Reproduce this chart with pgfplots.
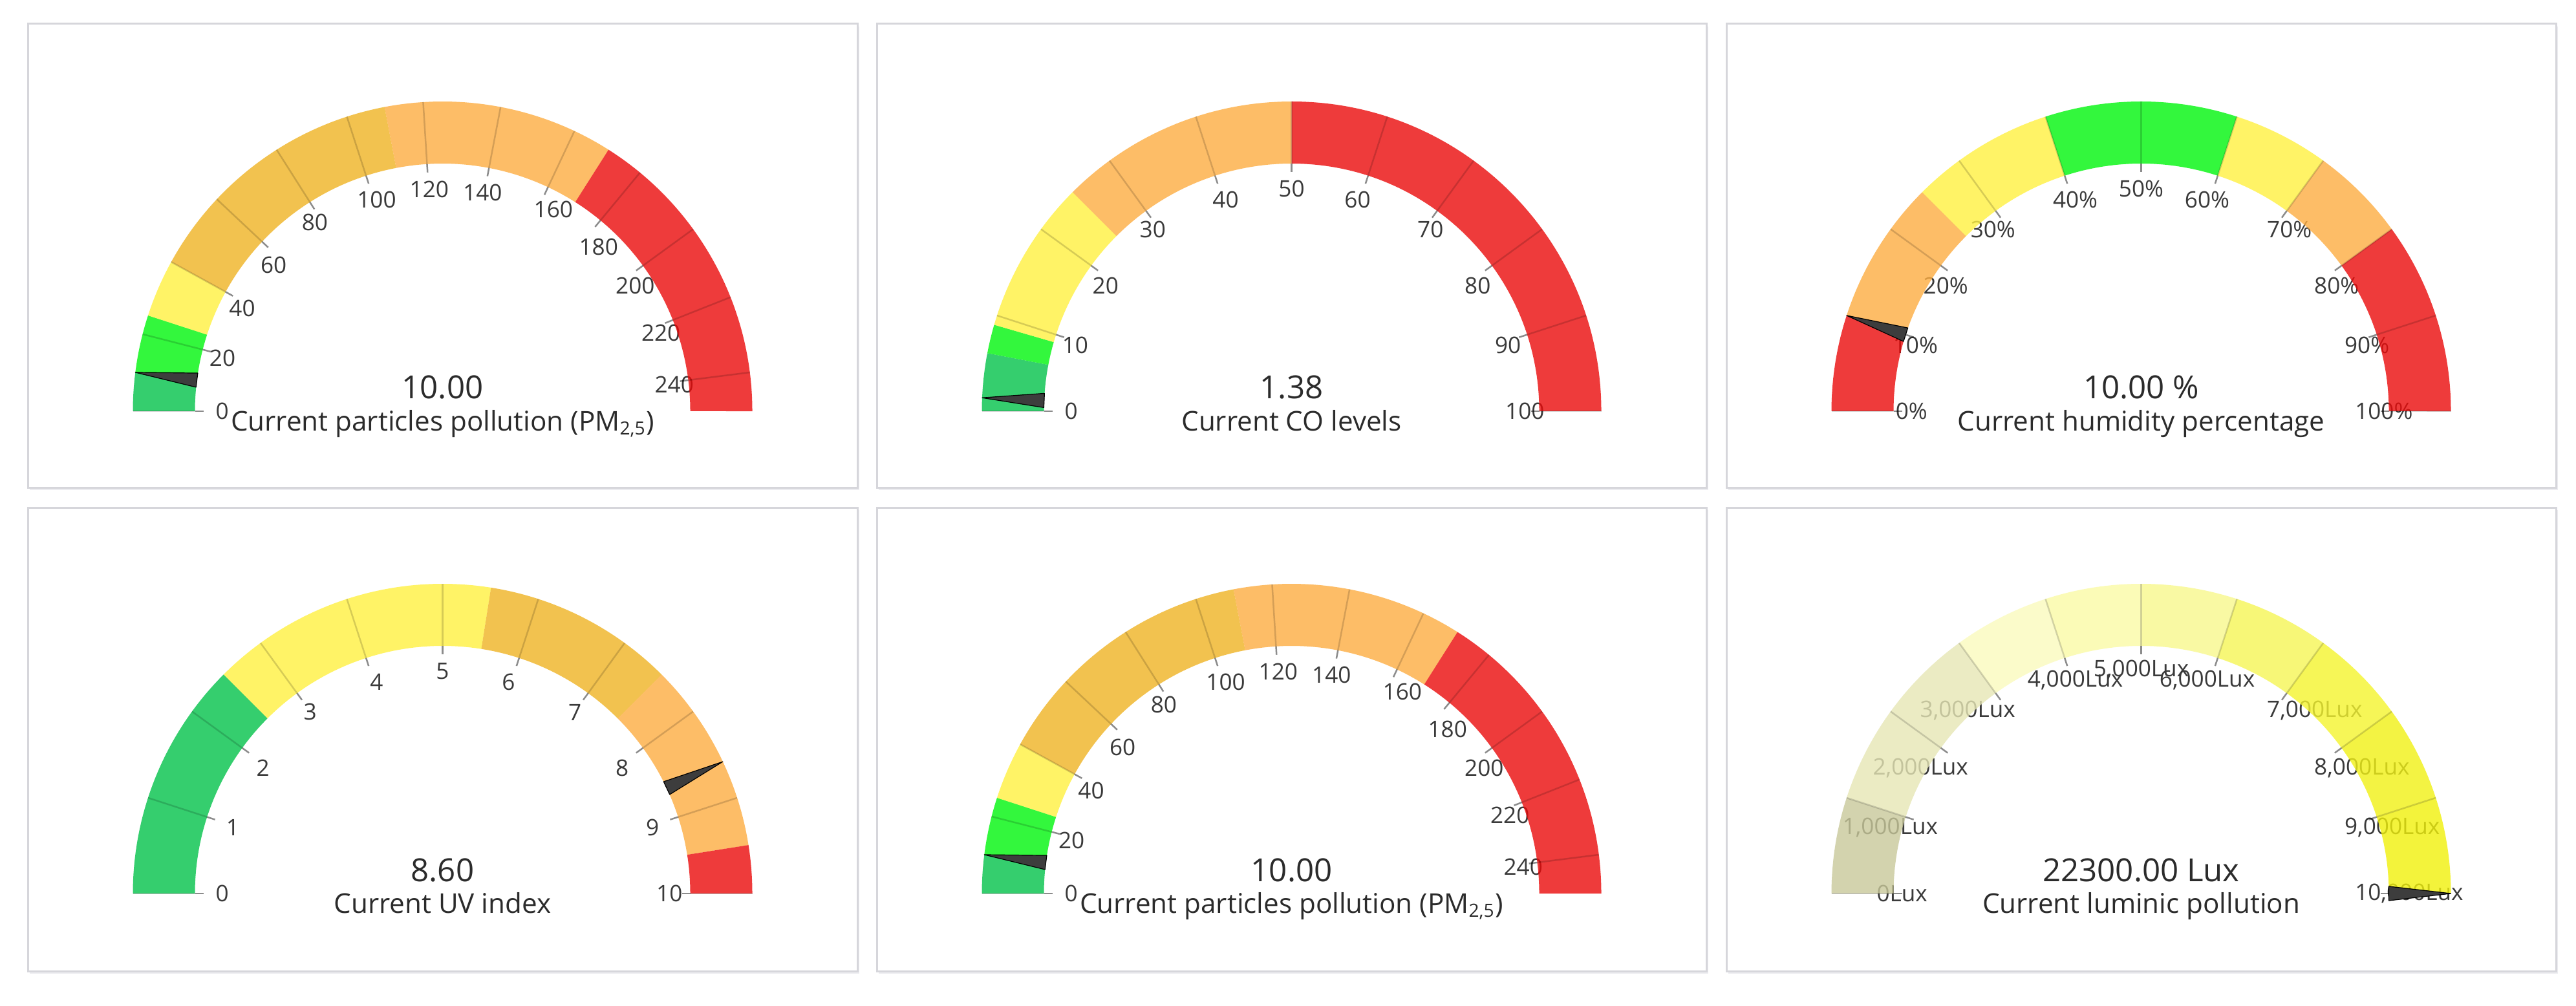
\documentclass[border=0pt]{standalone}
\usepackage{fontspec}
\setmainfont{Open Sans}
\usepackage{pgfplots}
\pgfplotsset{compat=1.18}

% band colours are pre-darkened: they are filled at 80% opacity over white,
% so the tick labels underneath show through faintly
\definecolor{dkgreen}{HTML}{03C24A}
\definecolor{ltgreen}{HTML}{00F50D}
\definecolor{yel}{HTML}{FFF140}
\definecolor{gold}{HTML}{EFB323}
\definecolor{lorange}{HTML}{FDAD41}
\definecolor{gred}{HTML}{EA0A0A}
\definecolor{luxA}{HTML}{C8C89A}
\definecolor{luxB}{HTML}{E6E6B5}
\definecolor{luxC}{HTML}{FBFBBD}
\definecolor{luxD}{HTML}{FAFAA6}
\definecolor{luxE}{HTML}{F8F88D}
\definecolor{luxF}{HTML}{F6F656}
\definecolor{luxG}{HTML}{F4F42E}
\definecolor{luxH}{HTML}{F1F115}
\definecolor{luxI}{HTML}{F0F00B}
\definecolor{labelc}{HTML}{3A3A3A}
\definecolor{valc}{HTML}{2B2B2B}
\definecolor{needlec}{HTML}{3D3D3D}
\definecolor{framec}{HTML}{D6D6DB}
\definecolor{shadowc}{HTML}{ECECF0}

% radii in axis units (1 unit = 1cm = 100px of the reference)
\newcommand{\Ro}{4.79}
\newcommand{\Ri}{3.83}
\newcommand{\Rt}{3.70}
\newcommand{\Rl}{3.30}

% #1 cx, #2 cy, #3 max, #4 value/label list
\newcommand{\ticklabels}[4]{%
  \foreach \v/\lab in {#4}{%
    \edef\t{\fpeval{180-180*\v/(#3)}}%
    \pgfmathtruncatemacro\hh{(cos(\t)<-0.4)+2*(cos(\t)>0.4)}%
    \pgfmathtruncatemacro\vv{sin(\t)>0.8}%
    \edef\anc{\ifcase\numexpr\hh+3*\vv\relax center\or east\or west\or south\or south east\or south west\fi}%
    \node[anchor=\anc,inner sep=0pt,text=labelc,font=\fontsize{10}{12}\selectfont]
      at ([shift={(\t:\Rl)}]axis cs:#1,#2) {\lab};
  }%
}

% #1 cx, #2 cy, #3 max, #4 from/to/colour list
\newcommand{\bands}[4]{%
  \foreach \a/\b/\col in {#4}{%
    \edef\ta{\fpeval{180-180*\a/(#3)}}%
    \edef\tb{\fpeval{180-180*\b/(#3)}}%
    \fill[\col,fill opacity=0.8] ([shift={(\ta:\Ro)}]axis cs:#1,#2) arc[start angle=\ta,end angle=\tb,radius=\Ro]
      -- ([shift={(\tb:\Ri)}]axis cs:#1,#2) arc[start angle=\tb,end angle=\ta,radius=\Ri] -- cycle;
  }%
}

\newcommand{\ticklines}[4]{%
  \foreach \v/\lab in {#4}{%
    \edef\t{\fpeval{180-180*\v/(#3)}}%
    \draw[black,opacity=0.16,line width=0.025cm]
      ([shift={(\t:\Ro)}]axis cs:#1,#2) -- ([shift={(\t:\Ri)}]axis cs:#1,#2);
    \draw[black,opacity=0.45,line width=0.025cm]
      ([shift={(\t:\Ri)}]axis cs:#1,#2) -- ([shift={(\t:\Rt)}]axis cs:#1,#2);
  }%
}

% #1 cx, #2 cy, #3 max, #4 bands, #5 ticks, #6 value, #7 value text, #8 subtitle
\newcommand{\gauge}[8]{%
  \ticklabels{#1}{#2}{#3}{#5}%
  \bands{#1}{#2}{#3}{#4}%
  \ticklines{#1}{#2}{#3}{#5}%
  \edef\tn{\fpeval{180-180*min(#6,#3)/(#3)}}%
  \edef\tp{\fpeval{\tn+90}}\edef\tm{\fpeval{\tn-90}}%
  \filldraw[fill=needlec,draw=black,line width=0.012cm,line join=round]
    ([shift={(\tn:\Ro)}]axis cs:#1,#2)
    -- ([shift={(\tn:\Ri)},shift={(\tp:0.11)}]axis cs:#1,#2)
    -- ([shift={(\tn:\Ri)},shift={(\tm:0.11)}]axis cs:#1,#2) -- cycle;
  \node[anchor=base,text=valc,font=\fontsize{14}{16}\selectfont]
    at ([yshift=0.19cm]axis cs:#1,#2) {#7};
  \node[anchor=base,text=valc,font=\fontsize{12}{14}\selectfont]
    at ([yshift=-0.30cm]axis cs:#1,#2) {#8};
}

\begin{document}
\begin{tikzpicture}
\begin{axis}[x=1cm,y=1cm,xmin=0,xmax=39.84,ymin=0,ymax=15.55,
  hide axis,clip=false]
\pgfplotsextra{%
  \fill[white] (axis cs:0,0) rectangle (axis cs:39.84,15.55);
  \foreach \xa/\xb in {0.43/13.26,13.56/26.39,26.70/39.53}{%
    \foreach \ya/\yb in {8.01/15.18,0.53/7.70}{%
      \fill[shadowc] ([xshift=0.03cm,yshift=-0.04cm]axis cs:\xa,\ya) rectangle ([xshift=0.03cm,yshift=-0.04cm]axis cs:\xb,\yb);
      \filldraw[fill=white,draw=framec,line width=0.03cm] (axis cs:\xa,\ya) rectangle (axis cs:\xb,\yb);
    }%
  }%
  % PM 2.5 (top left)
  \gauge{6.845}{9.19}{250}
    {0/10/dkgreen,10/25/ltgreen,25/40/yel,40/110/gold,110/170/lorange,170/250/gred}
    {0/0,20/20,40/40,60/60,80/80,100/100,120/120,140/140,160/160,180/180,200/200,220/220,240/240}
    {10}{10.00}{Current particles pollution (PM\textsubscript{2,5})}
  % CO
  \gauge{19.975}{9.19}{100}
    {0/6/dkgreen,6/9/ltgreen,9/25/yel,25/50/lorange,50/100/gred}
    {0/0,10/10,20/20,30/30,40/40,50/50,60/60,70/70,80/80,90/90,100/100}
    {1.38}{1.38}{Current CO levels}
  % humidity
  \gauge{33.115}{9.19}{100}
    {0/10/gred,10/25/lorange,25/40/yel,40/60/ltgreen,60/70/yel,70/80/lorange,80/100/gred}
    {0/0\%,10/10\%,20/20\%,30/30\%,40/40\%,50/50\%,60/60\%,70/70\%,80/80\%,90/90\%,100/100\%}
    {10}{10.00 \%}{Current humidity percentage}
  % UV
  \gauge{6.845}{1.73}{10}
    {0/2.5/dkgreen,2.5/5.5/yel,5.5/7.5/gold,7.5/9.5/lorange,9.5/10/gred}
    {0/0,1/1,2/2,3/3,4/4,5/5,6/6,7/7,8/8,9/9,10/10}
    {8.6}{8.60}{Current UV index}
  % PM 2.5 (bottom middle)
  \gauge{19.975}{1.73}{250}
    {0/10/dkgreen,10/25/ltgreen,25/40/yel,40/110/gold,110/170/lorange,170/250/gred}
    {0/0,20/20,40/40,60/60,80/80,100/100,120/120,140/140,160/160,180/180,200/200,220/220,240/240}
    {10}{10.00}{Current particles pollution (PM\textsubscript{2,5})}
  % luminic pollution
  \gauge{33.115}{1.73}{10000}
    {0/1000/luxA,1000/2000/luxB,2000/3000/luxB,3000/4000/luxC,4000/5000/luxD,5000/6000/luxE,6000/7000/luxF,7000/8000/luxG,8000/9000/luxH,9000/10000/luxI}
    {0/0Lux,1000/{1,000Lux},2000/{2,000Lux},3000/{3,000Lux},4000/{4,000Lux},5000/{5,000Lux},6000/{6,000Lux},7000/{7,000Lux},8000/{8,000Lux},9000/{9,000Lux},10000/{10,000Lux}}
    {22300}{22300.00 Lux}{Current luminic pollution}
}
\end{axis}
\end{tikzpicture}
\end{document}
